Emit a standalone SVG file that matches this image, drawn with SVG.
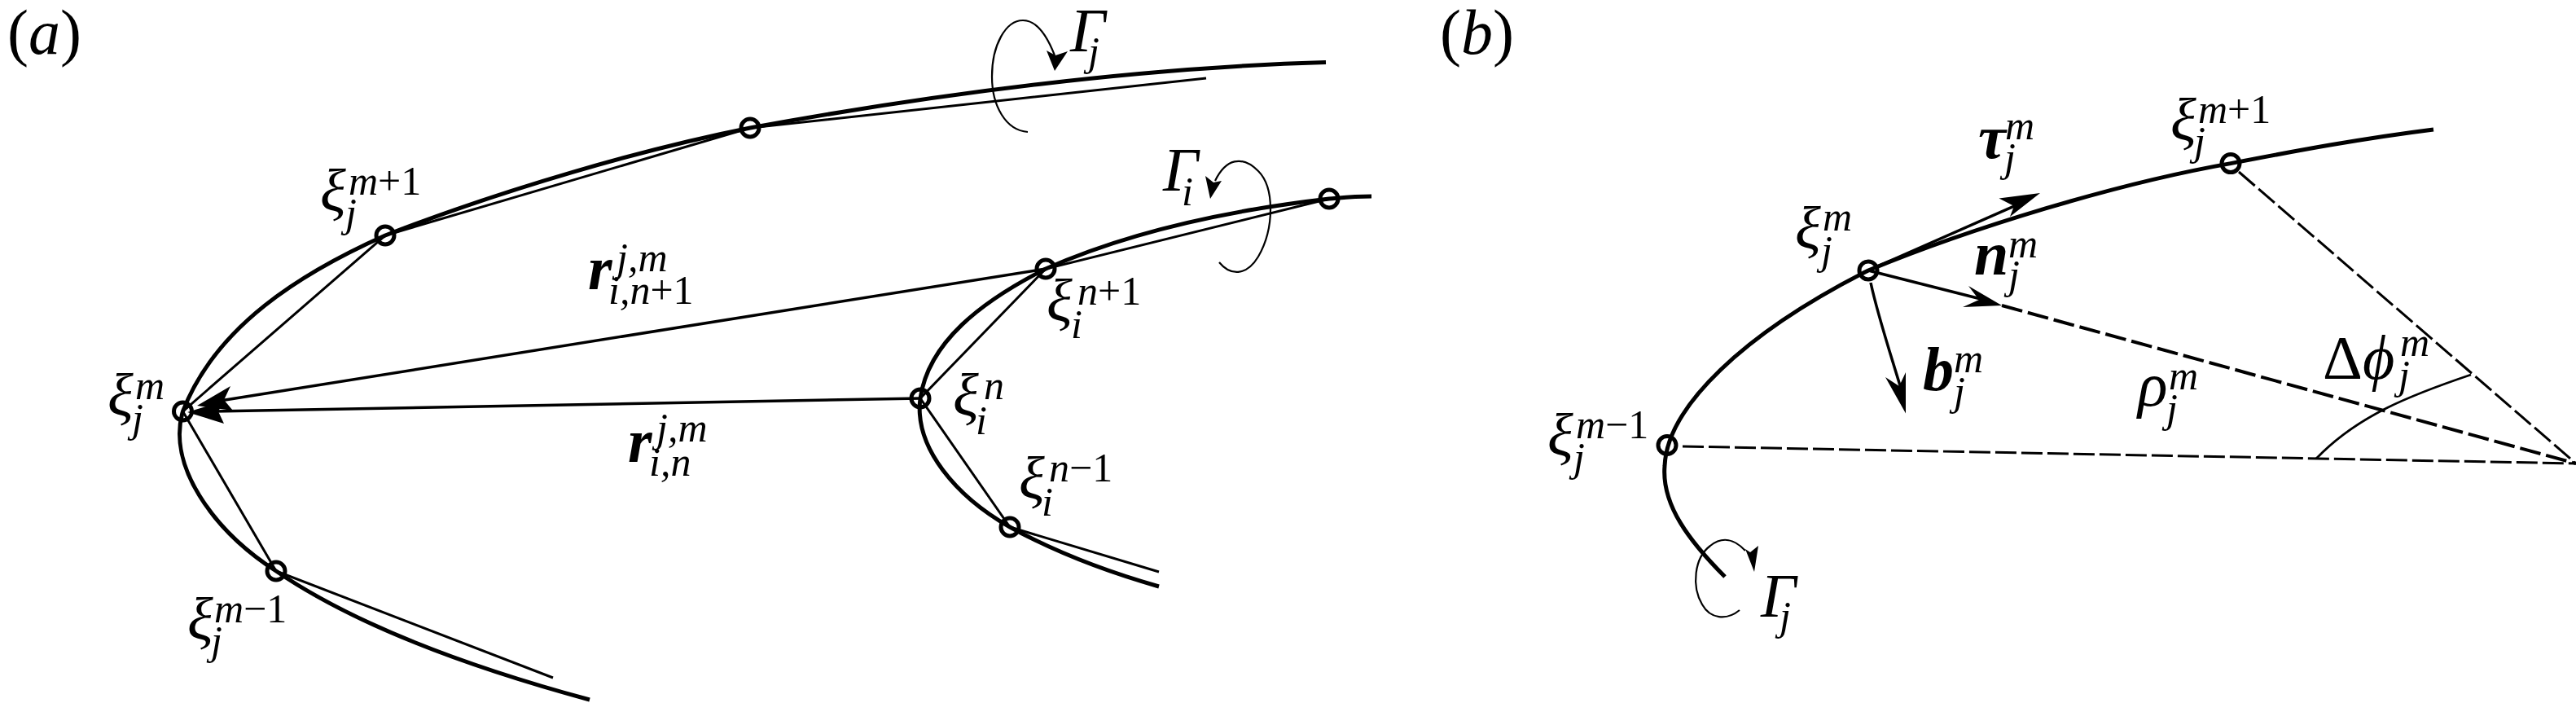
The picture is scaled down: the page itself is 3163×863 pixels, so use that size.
<svg xmlns="http://www.w3.org/2000/svg" width="3163" height="863" viewBox="0 0 3163 863">
<style>
text{font-family:"Liberation Serif","Times New Roman",serif;font-style:italic;fill:#000}
.m{font-size:74px}.s{font-size:50px}.p{font-size:78px}
.g{font-size:76px}
.b{font-weight:bold;font-size:76px}
.u{font-style:normal}
.curve{fill:none;stroke:#000;stroke-width:5}
.chord{fill:none;stroke:#000;stroke-width:3}
.vec{fill:none;stroke:#000;stroke-width:3.5}
.swirl{fill:none;stroke:#000;stroke-width:2.2}
.dash{fill:none;stroke:#000;stroke-width:4;stroke-dasharray:26 7}
.dash2{fill:none;stroke:#000;stroke-width:3;stroke-dasharray:26 6}
.head{fill:#000;stroke:none}
.pt{fill:none;stroke:#000;stroke-width:5}
</style>
<rect width="3163" height="863" fill="#fff"/>
<text class="p" x="9" y="66"><tspan class="u">(</tspan>a<tspan class="u">)</tspan></text>
<text class="p" x="1768" y="66"><tspan class="u">(</tspan>b<tspan class="u">)</tspan></text>
<g id="connectors">
<path class="curve" d="M1628 76.500C1400 83 1150 115 921 157C790 183 620 232 473 289C370 335 265 400 224.500 505C205 570 260 650 339 701C440 770 580 820 724 859"/>
<path class="chord" d="M1481 96L921 157L473 289L224.500 505L339 701L679 832"/>
<path class="curve" d="M1684 241C1660 241 1645 243 1632 244C1510 258 1390 283 1284 330C1205 370 1140 420 1130 489C1122 550 1175 610 1240 647C1300 680 1360 702 1423 720"/>
<path class="chord" d="M1632 244L1284 330L1130 489L1240 647L1423 702"/>
<path class="vec" d="M1284 330L270 492"/>
<path class="head" d="M242 498L283 474L275 491L286 504Z"/>
<path class="vec" d="M1130 489L262 505"/>
<path class="head" d="M230 506L275 492L268 505L275 520Z"/>
<path class="swirl" d="M1262 162C1235 160 1218 130 1218 94C1218 55 1235 25 1256 25C1275 25 1288 50 1295 68"/>
<path class="head" d="M1295 87L1285 62L1296 68L1311 63Z"/>
<path class="swirl" d="M1497 322C1510 338 1530 340 1545 315C1565 280 1565 230 1545 210C1525 190 1505 195 1492 222"/>
<path class="head" d="M1486 244L1480 216L1490 224L1500 222Z"/>
<path class="curve" d="M2118 708C2075 665 2040 620 2044 572C2047 500 2140 410 2294 332C2420 280 2600 225 2739 200.600C2820 185 2900 170 2988 159"/>
<path class="vec" d="M2294 332L2480 250"/>
<path class="head" d="M2505 237L2454.500 243.500L2473 253L2468 266Z"/>
<path class="vec" d="M2294 332L2440 369"/>
<path class="head" d="M2458 375L2417 351L2430 368L2410 377Z"/>
<path class="dash" d="M2458 375L3163 569"/>
<path class="vec" d="M2297 347C2305 385 2320 430 2335 480"/>
<path class="head" d="M2340 507.500L2315 463L2332 474L2340 457Z"/>
<path class="dash2" d="M2066 548L3163 569"/>
<path class="dash2" d="M2749 211L3163 569"/>
<path class="swirl" d="M2844 563C2895 510 2960 485 3034 460" style="stroke-width:2.8"/>
<path class="swirl" d="M2136 749C2120 762 2100 760 2090 742C2077 720 2080 685 2100 670C2115 658 2130 662 2143 676"/>
<path class="head" d="M2154 702L2143 674L2149 678L2159 670Z"/>
</g>
<g id="node-xi-j-mplus1"><circle class="pt" cx="473" cy="289" r="11"/><text class="m" x="393" y="259">ξ</text><text class="s" x="428" y="239">m<tspan class="u">+1</tspan></text><text class="s" x="424" y="278">j</text></g>
<g id="node-xi-j-m"><circle class="pt" cx="224.500" cy="505" r="11"/><text class="m" x="132" y="510">ξ</text><text class="s" x="166" y="490">m</text><text class="s" x="162" y="530">j</text></g>
<g id="node-xi-j-mminus1"><circle class="pt" cx="339" cy="701" r="11"/><text class="m" x="230" y="785">ξ</text><text class="s" x="263" y="764">m<tspan class="u">−1</tspan></text><text class="s" x="259" y="803">j</text></g>
<g id="node-j-upper"><circle class="pt" cx="921" cy="157" r="11"/></g>
<g id="node-i-end"><circle class="pt" cx="1632" cy="244" r="11"/></g>
<g id="node-xi-i-nplus1"><circle class="pt" cx="1284" cy="330" r="11"/><text class="m" x="1285" y="394">ξ</text><text class="s" x="1323" y="374">n<tspan class="u">+1</tspan></text><text class="s" x="1315" y="415">i</text></g>
<g id="node-xi-i-n"><circle class="pt" cx="1130" cy="489" r="11"/><text class="m" x="1170" y="510">ξ</text><text class="s" x="1208" y="490">n</text><text class="s" x="1198" y="533">i</text></g>
<g id="node-xi-i-nminus1"><circle class="pt" cx="1240" cy="647" r="11"/><text class="m" x="1251" y="612">ξ</text><text class="s" x="1288" y="591">n<tspan class="u">−1</tspan></text><text class="s" x="1279" y="633">i</text></g>
<g id="label-r1"><text class="b" x="722" y="355">r</text><text class="s" x="757" y="333">j,m</text><text class="s" x="747" y="373">i,n<tspan class="u">+1</tspan></text></g>
<g id="label-r2"><text class="b" x="771" y="567">r</text><text class="s" x="806" y="542">j,m</text><text class="s" x="797" y="584">i,n</text></g>
<g id="label-gamma-j"><text class="g" x="1314" y="63">Γ</text><text class="s" x="1336" y="80">j</text></g>
<g id="label-gamma-i"><text class="g" x="1428" y="234">Γ</text><text class="s" x="1451" y="252">i</text></g>
<g id="b-node-xi-mminus1"><circle class="pt" cx="2047" cy="546.500" r="11"/><text class="m" x="1900" y="559">ξ</text><text class="s" x="1935" y="538">m<tspan class="u">−1</tspan></text><text class="s" x="1932" y="578">j</text></g>
<g id="b-node-xi-m"><circle class="pt" cx="2294" cy="332" r="11"/><text class="m" x="2204" y="305">ξ</text><text class="s" x="2238" y="283">m</text><text class="s" x="2236" y="324">j</text></g>
<g id="b-node-xi-mplus1"><circle class="pt" cx="2739" cy="200.600" r="11"/><text class="m" x="2665" y="172">ξ</text><text class="s" x="2699" y="151">m<tspan class="u">+1</tspan></text><text class="s" x="2694" y="190">j</text></g>
<g id="label-tau"><text class="b" x="2429" y="194">τ</text><text class="s" x="2462" y="171">m</text><text class="s" x="2461" y="210">j</text></g>
<g id="label-n"><text class="b" x="2424" y="337">n</text><text class="s" x="2466" y="316">m</text><text class="s" x="2466" y="354">j</text></g>
<g id="label-b"><text class="b" x="2361" y="479">b</text><text class="s" x="2399" y="457">m</text><text class="s" x="2399" y="497">j</text></g>
<g id="label-rho"><text class="g" x="2625" y="498">ρ</text><text class="s" x="2663" y="478">m</text><text class="s" x="2660" y="518">j</text></g>
<g id="label-dphi"><text class="g u" x="2852" y="465">Δ</text><text class="g" x="2901" y="465">ϕ</text><text class="s" x="2947" y="437">m</text><text class="s" x="2945" y="477">j</text></g>
<g id="label-gamma-j-b"><text class="g" x="2162" y="757">Γ</text><text class="s" x="2185" y="773">j</text></g>
</svg>
